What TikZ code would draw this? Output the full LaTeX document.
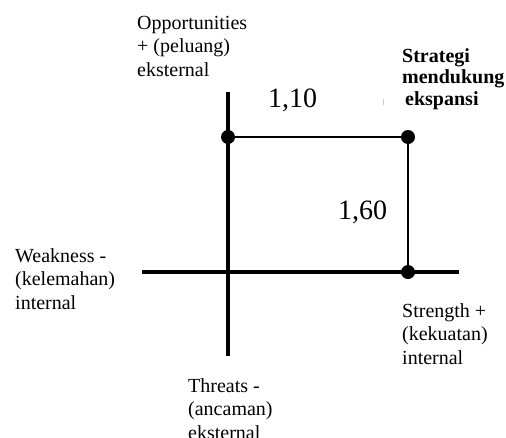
\documentclass[tikz,border=0pt]{standalone}
\usepackage{fontspec}
\setmainfont{Liberation Serif}
\begin{document}
\begin{tikzpicture}[x=1pt,y=-1pt,
  lbl/.style={anchor=base west,inner sep=0pt,align=left,font=\fontsize{20}{23.5}\selectfont},
  blbl/.style={anchor=base west,inner sep=0pt,align=left,font=\fontsize{20}{21.5}\selectfont\bfseries},
  num/.style={anchor=base west,inner sep=0pt,font=\fontsize{28}{30}\selectfont},
  axis/.style={line width=3.5pt},
  edge/.style={line width=2pt},
  dot/.style={circle,fill=black,inner sep=0pt,minimum size=14pt}]
\useasboundingbox (0,0) rectangle (506,437);
% axes
\coordinate (vt) at (228,92);
\coordinate (vb) at (228,356);
\coordinate (hl) at (142,272);
\coordinate (hr) at (459,272);
\draw[axis] (vt) -- (vb);
\draw[axis] (hl) -- (hr);
% points
\coordinate (O) at (228,137);
\coordinate (C) at (408,137);
\coordinate (S) at (408,272);
\draw[edge] (O) -- (C) -- (S);
\node[dot] (dO) at (O) {};
\node[dot] (dC) at (C) {};
\node[dot] (dS) at (S) {};
% labels (base = baseline of the last line)
\node[lbl] (opp) at (137,76) {Opportunities\\+ (peluang)\\eksternal};
\node[lbl] (weak) at (15,309) {Weakness -\\(kelemahan)\\internal};
\node[lbl] (str) at (402,364) {Strength +\\(kekuatan)\\internal};
\node[lbl] (thr) at (188,439) {Threats -\\(ancaman)\\eksternal};
\node[blbl] (strat) at (402,105) {Strategi\\mendukung\\\hspace{3pt}ekspansi};
\node[num] (v110) at (268,107) {1,10};
\node[num] (v160) at (338,219) {1,60};
\coordinate (tk1) at (383,99);
\coordinate (tk2) at (383,105);
\draw[gray!40,line width=1pt] (tk1) -- (tk2);
\end{tikzpicture}
\end{document}
